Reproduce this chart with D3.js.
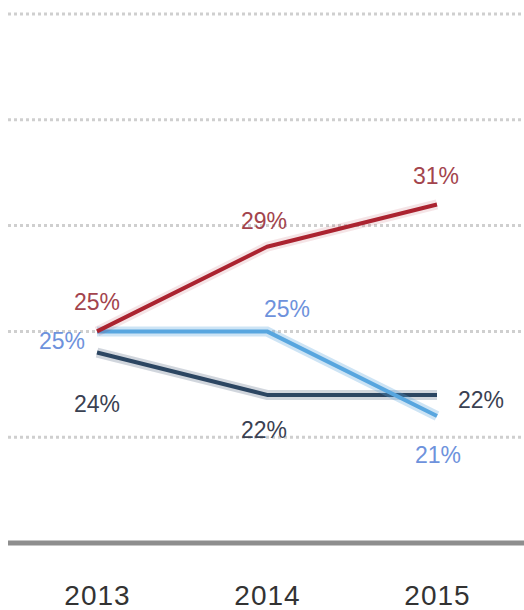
<!DOCTYPE html>
<html>
<head>
<meta charset="utf-8">
<script src="https://cdn.jsdelivr.net/npm/d3@7"></script>
<style>
  body { margin: 0; background: #fff; }
  svg { display: block; font-family: "Liberation Sans", Arial, sans-serif; }
</style>
</head>
<body>
<div id="chart"></div>
<script>
var w = 524, h = 610;

// data
var years = [2013, 2014, 2015];
var gridValues = [20, 25, 30, 35, 40];
var redVals = [25, 29, 31];
var blueVals = [25, 25, 21];
var navyVals = [24, 22, 22];

// label nudges (dx, dy from the point), per series
var redOff = [[0, -21], [-3, -18], [-1, -20]];
var blueOff = [[-35, 18], [20, -14], [1, 47]];
var navyOff = [[0, 59], [-3, 43], [44, 13]];

var series = [
  { name: "navy", vals: navyVals, off: navyOff, color: "#2c4662", label: "#3a4152", halo: 0.22 },
  { name: "blue", vals: blueVals, off: blueOff, color: "#58a6df", label: "#6e92dc", halo: 0.3 },
  { name: "red", vals: redVals, off: redOff, color: "#ab2330", label: "#a3444d", halo: 0.12 }
];

var svg = d3.select("#chart")
    .append("svg")
    .attr("width", w)
    .attr("height", h);

var x = d3.scalePoint()
    .domain(years)
    .range([97, 437]);

var y = d3.scaleLinear()
    .domain([15, 40])
    .range([543, 14]);

// dotted grid
svg.append("g")
    .selectAll("line")
    .data(gridValues)
    .enter()
    .append("line")
    .attr("x1", 8)
    .attr("x2", w)
    .attr("y1", function(d) { return y(d); })
    .attr("y2", function(d) { return y(d); })
    .attr("stroke", "#cfcfcf")
    .attr("stroke-width", 3)
    .attr("stroke-dasharray", "3,3");

// baseline
svg.append("line")
    .attr("x1", 8)
    .attr("x2", w)
    .attr("y1", y(15))
    .attr("y2", y(15))
    .attr("stroke", "#8e8e8e")
    .attr("stroke-width", 5);

// year labels
var xAxis = d3.axisBottom(x).tickSize(0).tickPadding(0).tickFormat(d3.format("d"));
var gx = svg.append("g")
    .attr("transform", "translate(0,585)")
    .call(xAxis);
gx.select(".domain").remove();
gx.selectAll(".tick text")
    .attr("y", 0)
    .attr("dy", "0.72em")
    .attr("font-size", "28px")
    .attr("font-family", "Liberation Sans, Arial, sans-serif")
    .attr("letter-spacing", "1px")
    .attr("fill", "#333");

var line = d3.line()
    .x(function(d, i) { return x(years[i]); })
    .y(function(d) { return y(d); });

var sg = svg.selectAll(".series")
    .data(series)
    .enter()
    .append("g")
    .attr("class", "series");

sg.append("path")
    .attr("d", function(d) { return line(d.vals); })
    .attr("fill", "none")
    .attr("stroke", function(d) { return d.color; })
    .attr("stroke-opacity", function(d) { return d.halo; })
    .attr("stroke-width", 10);

sg.append("path")
    .attr("d", function(d) { return line(d.vals); })
    .attr("fill", "none")
    .attr("stroke", function(d) { return d.color; })
    .attr("stroke-width", 4)
    .attr("stroke-linejoin", "round");

sg.selectAll("text")
    .data(function(s) {
      return s.vals.map(function(v, i) {
        return { v: v, i: i, off: s.off[i], label: s.label };
      });
    })
    .enter()
    .append("text")
    .attr("x", function(d) { return x(years[d.i]) + d.off[0]; })
    .attr("y", function(d) { return y(d.v) + d.off[1]; })
    .attr("text-anchor", "middle")
    .attr("font-size", "23px")
    .attr("fill", function(d) { return d.label; })
    .text(function(d) { return d.v + "%"; });
</script>
</body>
</html>
